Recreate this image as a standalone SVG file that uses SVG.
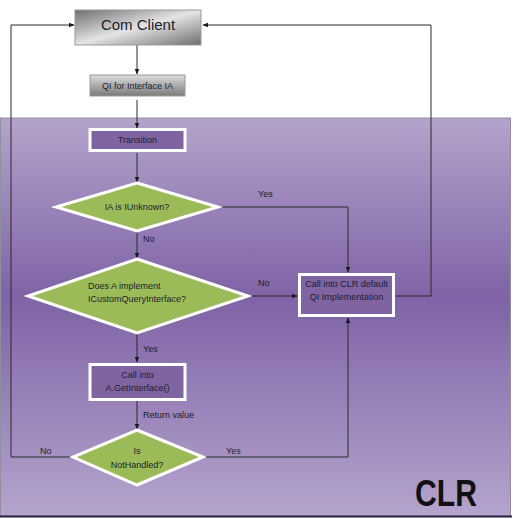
<svg xmlns="http://www.w3.org/2000/svg" width="513" height="519" viewBox="0 0 513 519">
<defs>
<linearGradient id="clrbg" x1="0" y1="0" x2="0" y2="1">
<stop offset="0" stop-color="#b4a3cb"/>
<stop offset="0.45" stop-color="#7f63a6"/>
<stop offset="1" stop-color="#b5a4cd"/>
</linearGradient>
<linearGradient id="comg" x1="0" y1="0" x2="1" y2="1">
<stop offset="0" stop-color="#6e6e6e"/>
<stop offset="0.5" stop-color="#e4e4e4"/>
<stop offset="1" stop-color="#6e6e6e"/>
</linearGradient>
<linearGradient id="qig" x1="0" y1="0" x2="0" y2="1">
<stop offset="0" stop-color="#dcdcdc"/>
<stop offset="1" stop-color="#7a7a7a"/>
</linearGradient>
<marker id="ah" viewBox="0 0 10 10" refX="9" refY="5" markerWidth="6" markerHeight="6" orient="auto">
<path d="M0,1 L10,5 L0,9 z" fill="#1a1a1a"/>
</marker>
</defs>
<style>
.t{font-family:"Liberation Sans",Arial,sans-serif;fill:#1c1c2c;}
.s{font-size:9px;}
.lbl{font-family:"Liberation Sans",Arial,sans-serif;font-size:9px;fill:#1c1c2c;}
.pbox{fill:#8064a2;stroke:#ffffff;stroke-width:3;}
.dia{fill:#9bbb59;stroke:#ffffff;stroke-width:3;}
.c{fill:none;stroke:#2a2a2a;stroke-width:1;}
</style>
<rect x="0" y="0" width="513" height="519" fill="#ffffff"/>
<g id="clr-region">
<rect x="0.5" y="118" width="510" height="398" fill="url(#clrbg)" stroke="#8f8f9f" stroke-width="1"/>
<line x1="0" y1="516.5" x2="512" y2="516.5" stroke="#2a2040" stroke-width="2"/>
<text x="446" y="506" text-anchor="middle" font-family="'Liberation Sans',Arial,sans-serif" font-weight="bold" font-size="36" fill="#111111" textLength="62" lengthAdjust="spacingAndGlyphs">CLR</text>
</g>
<g id="connectors">
<line class="c" x1="137" y1="45" x2="137" y2="74" marker-end="url(#ah)"/>
<line class="c" x1="137" y1="100" x2="137" y2="128" marker-end="url(#ah)"/>
<line class="c" x1="137" y1="153" x2="137" y2="182" marker-end="url(#ah)"/>
<line class="c" x1="137" y1="232" x2="137" y2="258" marker-end="url(#ah)"/>
<line class="c" x1="137" y1="334" x2="137" y2="362" marker-end="url(#ah)"/>
<line class="c" x1="137" y1="401" x2="137" y2="429" marker-end="url(#ah)"/>
<polyline class="c" points="218,207 348,207 348,272" marker-end="url(#ah)"/>
<line class="c" x1="248" y1="296" x2="297" y2="296" marker-end="url(#ah)"/>
<polyline class="c" points="396,296 431,296 431,25 203,25" marker-end="url(#ah)"/>
<polyline class="c" points="203,457 348,457 348,318" marker-end="url(#ah)"/>
<polyline class="c" points="73,457 11,457 11,25 74,25" marker-end="url(#ah)"/>
<text class="lbl" x="258" y="197">Yes</text>
<text class="lbl" x="143" y="242">No</text>
<text class="lbl" x="258" y="286">No</text>
<text class="lbl" x="143" y="352">Yes</text>
<text class="lbl" x="143" y="418">Return value</text>
<text class="lbl" x="40" y="454">No</text>
<text class="lbl" x="226" y="454">Yes</text>
</g>
<g id="com-client">
<rect x="75" y="10" width="126" height="35" fill="url(#comg)" stroke="#9a9a9a" stroke-width="1"/>
<text class="t" x="138" y="30" text-anchor="middle" font-size="15">Com Client</text>
</g>
<g id="qi-for-interface">
<rect x="90" y="75" width="95" height="21" fill="url(#qig)" stroke="#9a9a9a" stroke-width="1"/>
<text class="t s" x="137.5" y="88.5" text-anchor="middle" font-size="8.5">QI for Interface IA</text>
</g>
<g id="transition">
<rect class="pbox" x="90" y="129.5" width="95" height="21"/>
<text class="t s" x="137.5" y="143" text-anchor="middle">Transition</text>
</g>
<g id="ia-is-iunknown">
<polygon class="dia" points="137,183 218,207 137,231 56,207"/>
<text class="t s" x="137" y="210" text-anchor="middle">IA  is IUnknown?</text>
</g>
<g id="does-a-implement">
<polygon class="dia" points="137,259 248,296 137,333 28,296"/>
<text class="t s" x="88" y="289">Does A implement</text>
<text class="t s" x="88" y="302">ICustomQueryInterface?</text>
</g>
<g id="clr-default-qi">
<rect class="pbox" x="299.5" y="274.5" width="94" height="41"/>
<text class="t s" x="346.5" y="287" text-anchor="middle">Call into CLR default</text>
<text class="t s" x="346.5" y="300" text-anchor="middle">QI Implementation</text>
</g>
<g id="call-getinterface">
<rect class="pbox" x="90" y="364.5" width="95" height="35"/>
<text class="t s" x="137.5" y="378" text-anchor="middle">Call into</text>
<text class="t s" x="137.5" y="391" text-anchor="middle">A.GetInterface()</text>
</g>
<g id="is-nothandled">
<polygon class="dia" points="137,430 203,457 137,485 73,457"/>
<text class="t s" x="137" y="454" text-anchor="middle">Is</text>
<text class="t s" x="137" y="468" text-anchor="middle">NotHandled?</text>
</g>
</svg>
